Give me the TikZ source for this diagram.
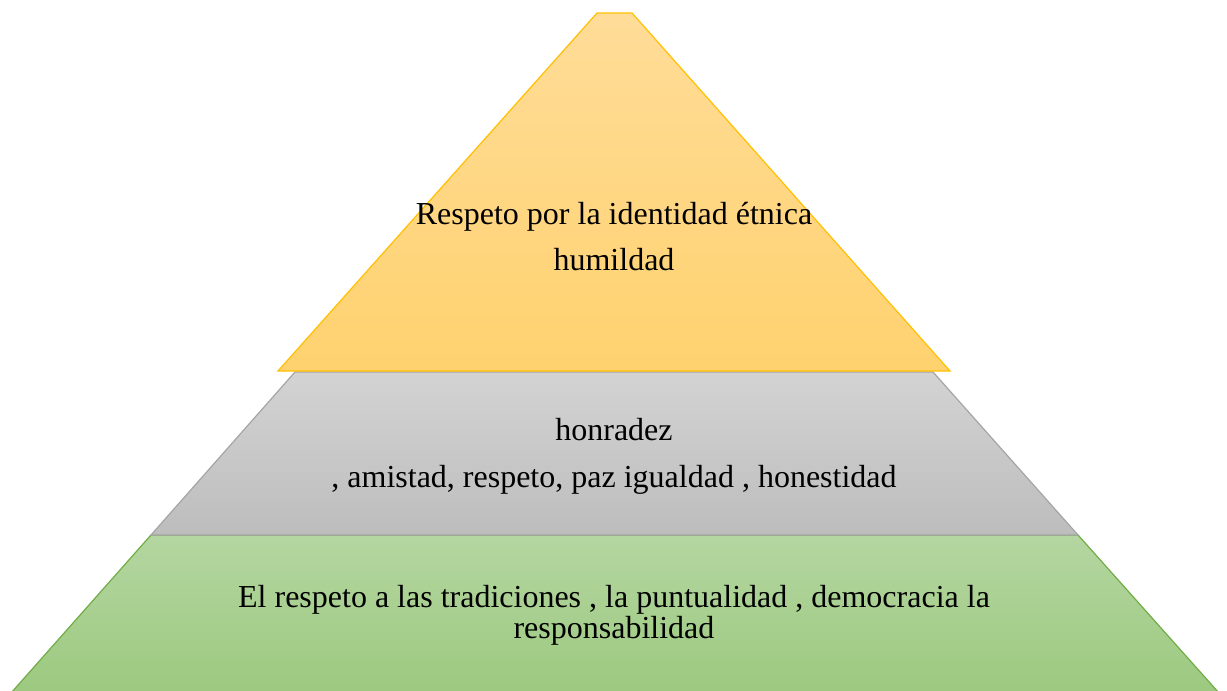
\documentclass[tikz,border=0pt]{standalone}
\usepackage{fontspec}
\setmainfont{Liberation Serif}
\usepackage{tikz}

\definecolor{goldline}{HTML}{FFC000}
\definecolor{goldtop}{HTML}{FFDC98}
\definecolor{goldbot}{HTML}{FFD26F}
\definecolor{grayline}{HTML}{A5A5A5}
\definecolor{graytop}{HTML}{D3D3D3}
\definecolor{graybot}{HTML}{BDBDBD}
\definecolor{greenline}{HTML}{70AD47}
\definecolor{greentop}{HTML}{B4D6A1}
\definecolor{greenbot}{HTML}{9CC97F}

\tikzset{
  tier/.style={line width=0.6pt, line join=miter},
  tiertext/.style={anchor=base, inner sep=0pt, font=\fontsize{16}{16}\selectfont}
}

\begin{document}
\begin{tikzpicture}[x=0.5pt,y=-0.5pt]
 \useasboundingbox (0,0) rectangle (1227,691);

% Bottom tier
 \draw[tier, draw=greenline, top color=greentop, bottom color=greenbot]
   (151,535) -- (1078,535) -- (1219,693) -- (11,693) -- cycle;
 \node[tiertext] (base-a) at (614,607) {El respeto a las tradiciones , la puntualidad , democracia la};
 \node[tiertext] (base-b) at (614,638) {responsabilidad};

% Middle tier
 \draw[tier, draw=grayline, top color=graytop, bottom color=graybot]
   (295,372) -- (933,372) -- (1078,535) -- (151,535) -- cycle;
 \node[tiertext] (mid-a) at (614,440) {honradez};
 \node[tiertext] (mid-b) at (614,487) {, amistad, respeto, paz igualdad , honestidad};

% Top tier
 \draw[tier, draw=goldline, top color=goldtop, bottom color=goldbot]
   (597,13) -- (632,13) -- (950,371) -- (278,371) -- cycle;
 \node[tiertext] (top-a) at (614,224) {Respeto por la identidad étnica};
 \node[tiertext] (top-b) at (614,270) {humildad};

\end{tikzpicture}
\end{document}
